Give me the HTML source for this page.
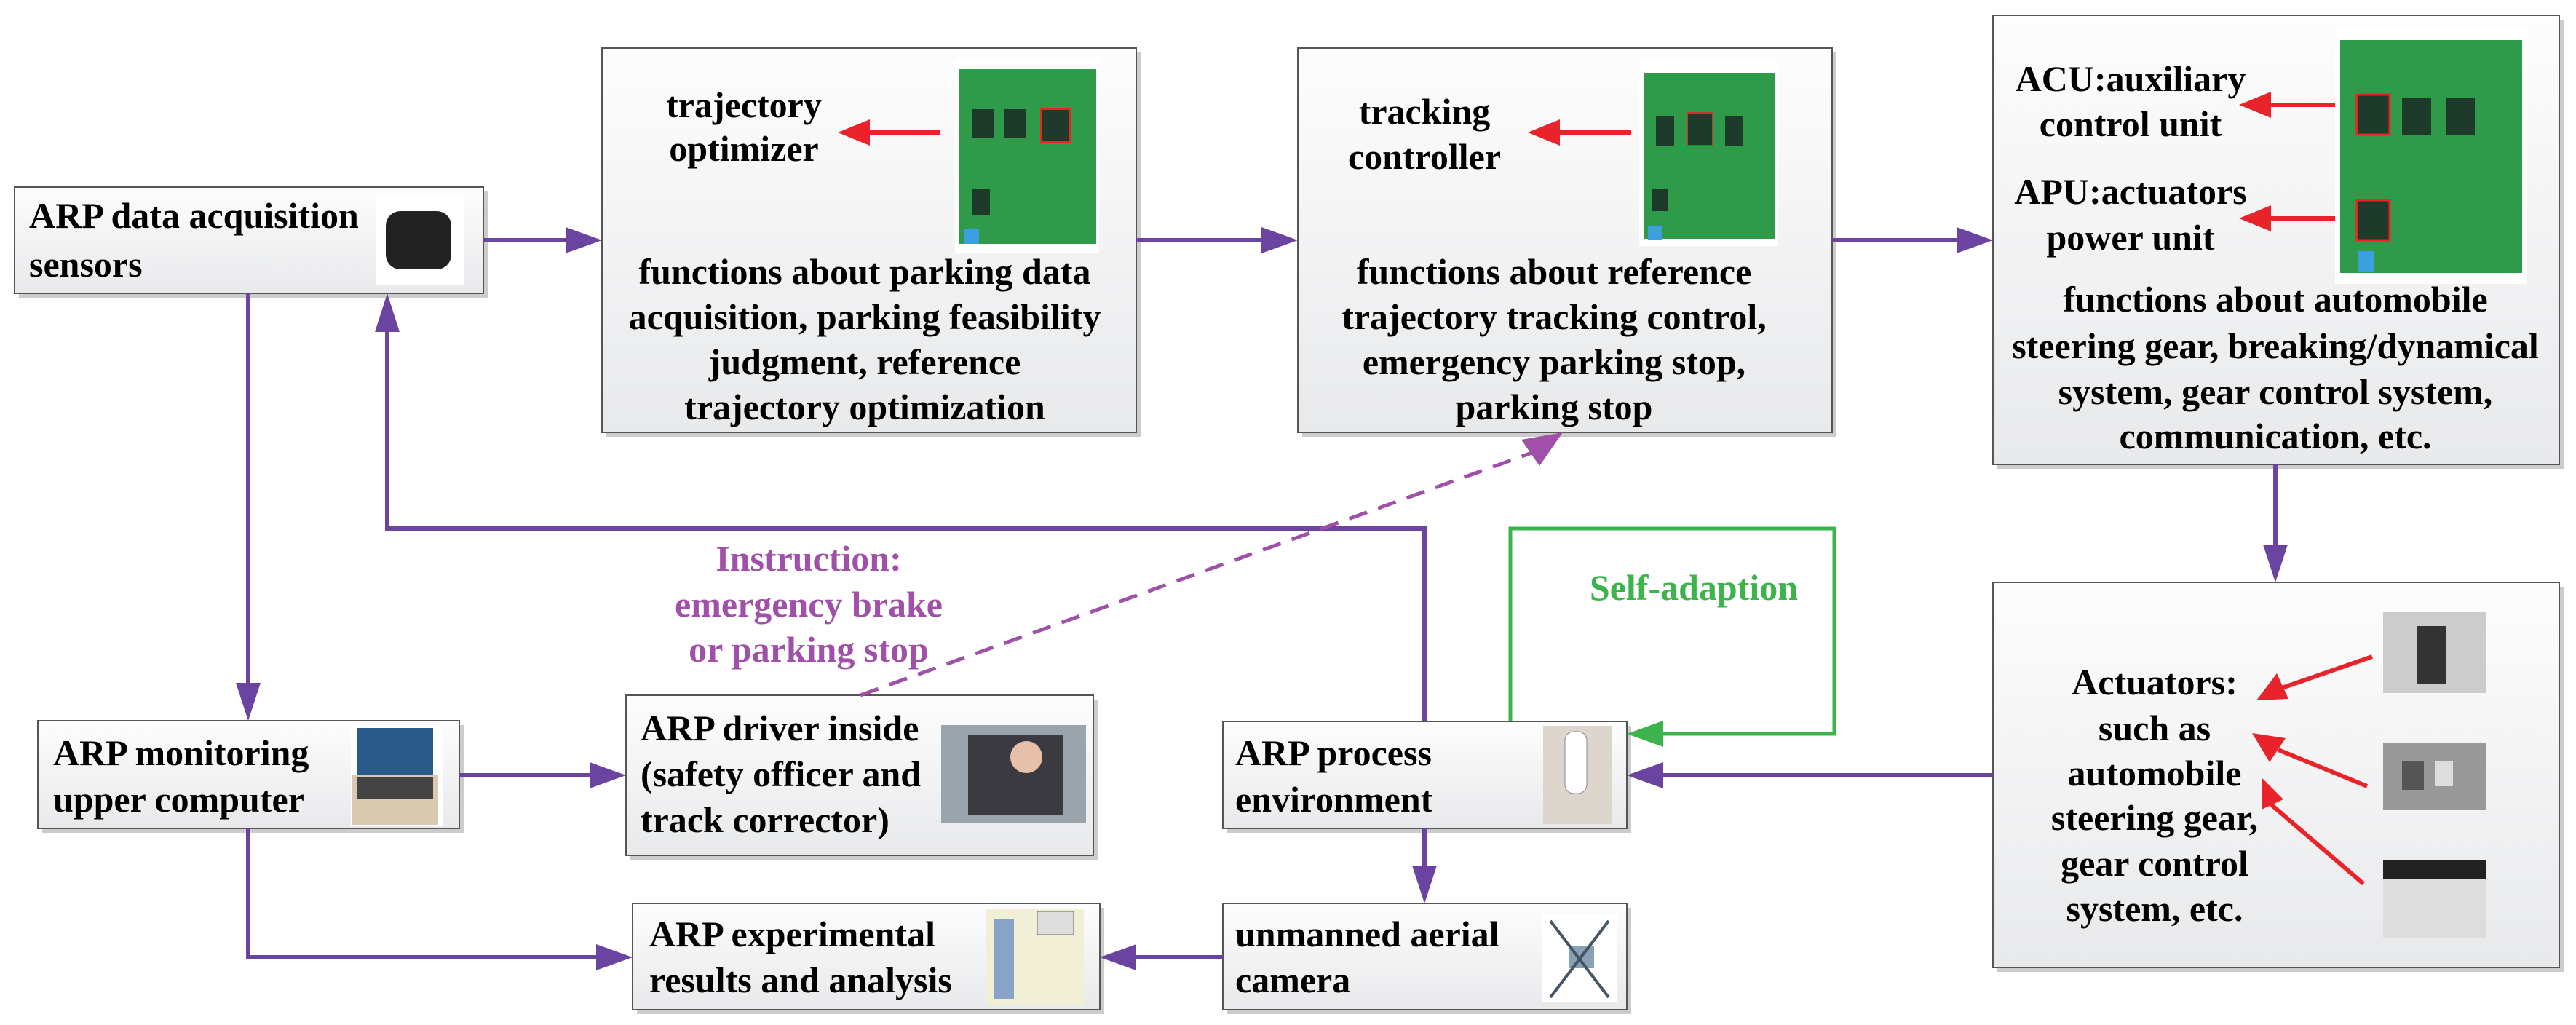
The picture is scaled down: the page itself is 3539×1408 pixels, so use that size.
<!DOCTYPE html>
<html><head><meta charset="utf-8"><style>
html,body{margin:0;padding:0;background:#fff}
svg{display:block}
</style></head><body>
<svg width="3539" height="1408" viewBox="0 0 3539 1408" xmlns="http://www.w3.org/2000/svg" font-family="'Liberation Serif', 'Times New Roman', serif" font-weight="bold" font-size="50">
<defs>
<linearGradient id="bg" x1="0" y1="0" x2="0" y2="1"><stop offset="0" stop-color="#fdfdfd"/><stop offset="1" stop-color="#e8e9eb"/></linearGradient>
</defs>
<g stroke="#555" stroke-width="2" fill="url(#bg)">
<rect x="26" y="263" width="644" height="146" fill="#ccc" stroke="none"/>
<rect x="20" y="257" width="644" height="146"/>
<rect x="833" y="72" width="734" height="528" fill="#ccc" stroke="none"/>
<rect x="827" y="66" width="734" height="528"/>
<rect x="1789" y="72" width="734" height="528" fill="#ccc" stroke="none"/>
<rect x="1783" y="66" width="734" height="528"/>
<rect x="2744" y="27" width="778" height="617" fill="#ccc" stroke="none"/>
<rect x="2738" y="21" width="778" height="617"/>
<rect x="58" y="996" width="579" height="148" fill="#ccc" stroke="none"/>
<rect x="52" y="990" width="579" height="148"/>
<rect x="866" y="961" width="642" height="220" fill="#ccc" stroke="none"/>
<rect x="860" y="955" width="642" height="220"/>
<rect x="875" y="1247" width="642" height="146" fill="#ccc" stroke="none"/>
<rect x="869" y="1241" width="642" height="146"/>
<rect x="1686" y="997" width="555" height="147" fill="#ccc" stroke="none"/>
<rect x="1680" y="991" width="555" height="147"/>
<rect x="1686" y="1247" width="555" height="146" fill="#ccc" stroke="none"/>
<rect x="1680" y="1241" width="555" height="146"/>
<rect x="2744" y="806" width="778" height="529" fill="#ccc" stroke="none"/>
<rect x="2738" y="800" width="778" height="529"/>
</g>
<g>
<rect x="517" y="270" width="121" height="122" fill="#fff"/>
<rect x="530" y="290" width="90" height="80" rx="20" fill="#222"/>
<rect x="1312" y="81" width="198" height="266" fill="#fff"/>
<rect x="1318" y="95" width="188" height="240" fill="#2e9a4a"/>
<rect x="1335" y="150" width="30" height="40" fill="#1d3a2a"/><rect x="1380" y="150" width="30" height="40" fill="#1d3a2a"/><rect x="1430" y="150" width="40" height="45" fill="#1d3a2a" stroke="#e22" stroke-width="2"/><rect x="1335" y="260" width="25" height="35" fill="#1d3a2a"/><rect x="1325" y="315" width="20" height="20" fill="#3aa0e0"/>
<rect x="2252" y="85" width="190" height="253" fill="#fff"/>
<rect x="2258" y="100" width="180" height="228" fill="#2e9a4a"/>
<rect x="2275" y="160" width="25" height="40" fill="#1d3a2a"/><rect x="2318" y="155" width="35" height="45" fill="#1d3a2a" stroke="#c33" stroke-width="2"/><rect x="2370" y="160" width="25" height="40" fill="#1d3a2a"/><rect x="2270" y="260" width="22" height="30" fill="#1d3a2a"/><rect x="2264" y="310" width="20" height="20" fill="#3aa0e0"/>
<rect x="3208" y="36" width="264" height="354" fill="#fff"/>
<rect x="3215" y="55" width="250" height="320" fill="#2e9a4a"/>
<rect x="3238" y="130" width="45" height="55" fill="#1d3a2a" stroke="#e22" stroke-width="3"/><rect x="3300" y="135" width="40" height="50" fill="#1d3a2a"/><rect x="3360" y="135" width="40" height="50" fill="#1d3a2a"/><rect x="3238" y="275" width="45" height="55" fill="#1d3a2a" stroke="#e22" stroke-width="3"/><rect x="3240" y="345" width="22" height="28" fill="#3aa0e0"/>
<rect x="482" y="997" width="126" height="138" fill="#fff"/>
<rect x="490" y="1000" width="105" height="65" fill="#2a5a8a"/><rect x="484" y="1065" width="118" height="68" fill="#d8c9b0"/><rect x="490" y="1068" width="105" height="30" fill="#444"/>
<rect x="1293" y="996" width="199" height="134" fill="#9aa4ad"/>
<rect x="1330" y="1010" width="130" height="110" fill="#3a3a40"/><circle cx="1410" cy="1040" r="22" fill="#e6c0a8"/>
<rect x="1355" y="1248" width="134" height="132" fill="#f1efd6"/>
<rect x="1365" y="1262" width="28" height="110" fill="#8aa4c8"/><rect x="1425" y="1252" width="50" height="32" fill="#ddd" stroke="#666"/>
<rect x="2120" y="997" width="95" height="135" fill="#ddd6cc"/>
<rect x="2150" y="1005" width="30" height="85" rx="12" fill="#fff" stroke="#888"/>
<rect x="2118" y="1256" width="104" height="120" fill="#fff"/>
<rect x="2155" y="1300" width="35" height="30" fill="#8aa0b5"/>
<line x1="2130" y1="1265" x2="2210" y2="1370" stroke="#456" stroke-width="4"/><line x1="2210" y1="1265" x2="2130" y2="1370" stroke="#456" stroke-width="4"/>
<rect x="3274" y="840" width="141" height="112" fill="#ccc"/><rect x="3320" y="860" width="40" height="80" fill="#333"/>
<rect x="3274" y="1021" width="141" height="92" fill="#999"/><rect x="3300" y="1045" width="30" height="40" fill="#555"/><rect x="3345" y="1045" width="25" height="35" fill="#ddd"/>
<rect x="3274" y="1182" width="141" height="106" fill="#ddd"/><rect x="3274" y="1182" width="141" height="25" fill="#222"/>
</g>
<g stroke="#6b43a0" stroke-width="6" fill="none">
<line x1="664" y1="330" x2="780" y2="330"/>
<line x1="1561" y1="330" x2="1735" y2="330"/>
<line x1="2517" y1="330" x2="2690" y2="330"/>
<line x1="3126" y1="638" x2="3126" y2="750"/>
<line x1="2738" y1="1065" x2="2285" y2="1065"/>
<polyline points="1957,991 1957,726 532,726 532,450"/>
<line x1="341" y1="403" x2="341" y2="940"/>
<line x1="631" y1="1065" x2="812" y2="1065"/>
<polyline points="341,1138 341,1315 820,1315"/>
<line x1="1680" y1="1315" x2="1560" y2="1315"/>
<line x1="1957" y1="1138" x2="1957" y2="1192"/>
</g>
<g fill="#6b43a0">
<polygon points="827,330 777,312 777,348"/>
<polygon points="1783,330 1733,312 1733,348"/>
<polygon points="2738,330 2688,312 2688,348"/>
<polygon points="3126,800 3109,748 3143,748"/>
<polygon points="2235,1065 2285,1047 2285,1083"/>
<polygon points="532,403 515,456 549,456"/>
<polygon points="341,990 324,938 358,938"/>
<polygon points="860,1065 810,1047 810,1083"/>
<polygon points="869,1315 819,1297 819,1333"/>
<polygon points="1511,1315 1561,1297 1561,1333"/>
<polygon points="1957,1241 1940,1189 1974,1189"/>
</g>
<line x1="1182" y1="955" x2="2110" y2="620" stroke="#a050a8" stroke-width="5" stroke-dasharray="26,16"/>
<polygon points="2147,594 2090,604 2115,640" fill="#a050a8"/>
<polyline points="2075,991 2075,726 2520,726 2520,1008 2285,1008" stroke="#3cb44b" stroke-width="5" fill="none"/>
<polygon points="2235,1008 2285,990 2285,1026" fill="#3cb44b"/>
<g stroke="#e8242a" stroke-width="6" fill="#e8242a">
<line x1="1291" y1="182" x2="1190" y2="182"/><polygon points="1151,182 1195,164 1195,200" stroke="none"/>
<line x1="2241" y1="182" x2="2140" y2="182"/><polygon points="2099,182 2143,164 2143,200" stroke="none"/>
<line x1="3208" y1="144" x2="3115" y2="144"/><polygon points="3076,144 3120,126 3120,162" stroke="none"/>
<line x1="3208" y1="300" x2="3115" y2="300"/><polygon points="3076,300 3120,282 3120,318" stroke="none"/>
<line x1="3259" y1="902" x2="3135" y2="945"/><polygon points="3100,962 3128,925 3144,960" stroke="none"/>
<line x1="3252" y1="1080" x2="3130" y2="1030"/><polygon points="3094,1007 3140,1014 3118,1047" stroke="none"/>
<line x1="3247" y1="1214" x2="3120" y2="1105"/><polygon points="3107,1068 3137,1098 3107,1112" stroke="none"/>
</g>
<g dominant-baseline="central" fill="#000">
<text x="40" y="296">ARP data acquisition</text>
<text x="40" y="363">sensors</text>
<g text-anchor="middle">
<text x="1022" y="144">trajectory</text><text x="1022" y="204">optimizer</text>
<text x="1188" y="373">functions about parking data</text>
<text x="1188" y="435">acquisition, parking feasibility</text>
<text x="1188" y="497">judgment, reference</text>
<text x="1188" y="559">trajectory optimization</text>
<text x="1957" y="153">tracking</text><text x="1957" y="215">controller</text>
<text x="2135" y="373">functions about reference</text>
<text x="2135" y="435">trajectory tracking control,</text>
<text x="2135" y="497">emergency parking stop,</text>
<text x="2135" y="559">parking stop</text>
<text x="2927" y="108">ACU:auxiliary</text><text x="2927" y="170">control unit</text>
<text x="2927" y="263">APU:actuators</text><text x="2927" y="326">power unit</text>
<text x="3126" y="411">functions about automobile</text>
<text x="3126" y="475">steering gear, breaking/dynamical</text>
<text x="3126" y="538">system, gear control system,</text>
<text x="3126" y="599">communication, etc.</text>
<text x="2960" y="937">Actuators:</text>
<text x="2960" y="1000">such as</text>
<text x="2960" y="1062">automobile</text>
<text x="2960" y="1123">steering gear,</text>
<text x="2960" y="1186">gear control</text>
<text x="2960" y="1248">system, etc.</text>
<text x="1111" y="767" fill="#a050a8">Instruction:</text>
<text x="1111" y="830" fill="#a050a8">emergency brake</text>
<text x="1111" y="892" fill="#a050a8">or parking stop</text>
<text x="2327" y="807" fill="#3cb44b">Self-adaption</text>
</g>
<text x="73" y="1034">ARP monitoring</text><text x="73" y="1098">upper computer</text>
<text x="880" y="1000">ARP driver inside</text><text x="880" y="1063">(safety officer and</text><text x="880" y="1126">track corrector)</text>
<text x="892" y="1283">ARP experimental</text><text x="892" y="1346">results and analysis</text>
<text x="1697" y="1034">ARP process</text><text x="1697" y="1098">environment</text>
<text x="1697" y="1283">unmanned aerial</text><text x="1697" y="1346">camera</text>
</g>
</svg>
</body></html>
